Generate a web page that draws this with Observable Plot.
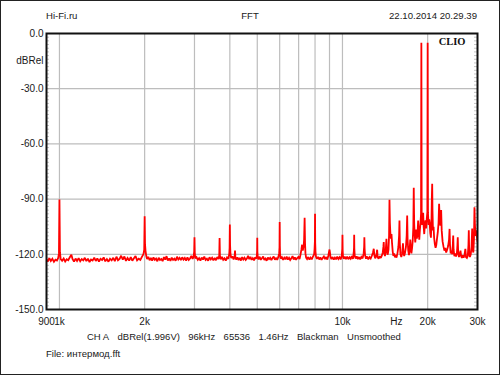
<!DOCTYPE html>
<html><head><meta charset="utf-8">
<script src="https://cdn.jsdelivr.net/npm/d3@7"></script>
<script src="https://cdn.jsdelivr.net/npm/@observablehq/plot@0.6"></script>
<style>
body{margin:0;background:#fff;font-family:"Liberation Sans",Arial,sans-serif;color:#1a1a1a}
#wrap{position:relative;width:500px;height:376px;overflow:hidden;background:#fff}
#border{position:absolute;left:0;top:0;width:500px;height:375px;box-sizing:border-box;border:1.5px solid #222;pointer-events:none}
.t{position:absolute;font-size:9.6px;line-height:12px;white-space:nowrap}
#chart{position:absolute;left:0;top:22px}
#foot{position:absolute;left:87px;top:331px;display:flex;gap:8.4px;font-size:9.5px;line-height:12px;white-space:nowrap}
</style></head>
<body><div id="wrap">
<div class="t" style="left:46px;top:10px">Hi-Fi.ru</div>
<div class="t" style="left:0;width:500px;text-align:center;top:10px">FFT</div>
<div class="t" style="right:23px;top:10px">22.10.2014 20.29.39</div>
<div id="chart"></div>
<div id="foot"><span>CH A</span><span>dBRel(1.996V)</span><span>96kHz</span><span>65536</span><span>1.46Hz</span><span>Blackman</span><span>Unsmoothed</span></div>
<div class="t" style="left:46px;top:348px">File: интермод.fft</div>
<div id="border"></div>
</div>
<script>
const xTicks = [900, 1000, 2000, 5000, 10000, 15500, 20000, 30000];
const xTickLabels = ["900", "1k", "2k", "5k", "10k", "Hz", "20k", "30k"];
const yTicks = [0, -15, -30, -60, -90, -120, -150];
const yTickLabels = ["0.0", "dBRel", "-30.0", "-60.0", "-90.0", "-120.0", "-150.0"];
const gridFreqs = [1000, 2000, 3000, 4000, 5000, 6000, 7000, 8000, 9000, 10000, 20000];
const gridDb = [-30, -60, -90, -120];

// spectrum [Hz, dBRel]
const spectrumLow = [
[900,-122.8],[910,-123.9],[921,-122.1],[932,-123.6],[944,-122.4],[956,-124.1],[968,-122.9],[980,-123.4],[990,-122.0],[996,-119.5],[1000,-90.2],[1004,-119],[1010,-122.6],[1022,-123.5],[1035,-122.3],[1048,-123.9],[1061,-122.7],[1074,-123.2],[1088,-121.6],[1102,-120.2],[1112,-122.5],[1126,-124.0],[1140,-122.3],[1154,-123.6],[1169,-122.1],[1184,-123.8],[1199,-122.6],[1214,-123.3],[1229,-121.9],[1245,-123.7],[1261,-122.4],[1277,-124.2],[1293,-122.8],[1310,-123.4],[1327,-121.8],[1344,-123.6],[1361,-122.2],[1379,-123.9],[1397,-122.5],[1415,-123.1],[1433,-121.7],[1452,-123.8],[1471,-122.6],[1490,-124.0],[1509,-122.4],[1529,-123.3],[1549,-121.9],[1569,-123.7],[1590,-121.3],[1610,-123.2],[1631,-122.5],[1652,-120.8],[1674,-122.9],[1696,-121.2],[1718,-123.6],[1740,-122.0],[1763,-123.4],[1786,-121.6],[1809,-123.5],[1833,-122.1],[1857,-121.0],[1881,-123.3],[1906,-122.4],[1931,-123.0],[1956,-121.4],[1980,-120.0],[1993,-117.5],[2000,-99.3],[2006,-114.5],[2014,-118.0],[2026,-120.8],[2040,-122.6],[2060,-121.4],[2082,-123.2],[2104,-122.0],[2126,-123.5],[2149,-121.7],[2172,-123.0],[2195,-122.3],[2218,-123.8],[2242,-121.9],[2266,-123.1],[2290,-122.6],[2315,-123.7],[2340,-121.5],[2365,-122.9],[2390,-121.0],[2415,-123.4],[2441,-122.2],[2467,-123.6],[2493,-121.8],[2520,-123.0],[2547,-122.4],[2574,-123.5],[2602,-121.3],[2630,-122.8],[2658,-121.9],[2686,-123.2],[2715,-121.6],[2744,-122.9],[2773,-122.0],[2803,-123.4],[2833,-121.7],[2863,-123.1],[2894,-122.3],[2925,-120.9],[2956,-122.5],[2980,-121.0],[2993,-118.5],[3000,-110.7],[3007,-119.0],[3020,-122.3]
];
const spectrumMid = [
[3050,-121.5],[3082,-123.0],[3115,-122.1],[3148,-123.4],[3181,-121.8],[3215,-122.9],[3249,-121.2],[3284,-123.1],[3319,-122.4],[3354,-123.5],[3390,-121.6],[3426,-122.8],[3462,-121.9],[3499,-123.3],[3536,-122.0],[3574,-123.2],[3612,-121.5],[3650,-122.6],[3670,-120.5],[3680,-111.2],[3690,-120.8],[3715,-122.7],[3752,-121.4],[3790,-123.0],[3830,-122.2],[3870,-123.4],[3910,-121.7],[3950,-122.5],[3980,-120.0],[3992,-116.5],[4000,-103.8],[4008,-115.0],[4020,-119.8],[4045,-122.0],[4085,-121.1],[4125,-122.8],[4160,-121.0],[4172,-118.0],[4185,-121.6],[4215,-122.9],[4255,-121.7],[4296,-123.2],[4337,-122.0],[4379,-123.4],[4421,-121.5],[4464,-122.8],[4507,-121.9],[4551,-123.1],[4595,-122.3],[4640,-120.8],[4685,-122.6],[4730,-121.4],[4776,-123.0],[4822,-122.1],[4869,-123.3],[4916,-121.6],[4960,-122.4],[4985,-120.5],[4995,-118.0],[5000,-111.0],[5005,-118.5],[5020,-121.5],[5050,-122.8],[5098,-121.3],[5146,-123.0],[5195,-122.1],[5245,-121.2],[5295,-123.1],[5346,-122.3],[5397,-123.5],[5449,-121.7],[5501,-122.6],[5554,-121.9],[5607,-123.2],[5661,-122.0],[5715,-121.2],[5770,-122.9],[5825,-122.1],[5880,-123.0],[5935,-121.4],[5975,-119.5],[5992,-116.0],[6000,-102.5],[6008,-115.5],[6020,-120.0],[6050,-122.4],[6110,-121.6],[6170,-123.0],[6230,-121.8],[6290,-122.7],[6350,-121.3],[6412,-122.9],[6474,-121.9],[6536,-123.1],[6599,-122.2],[6662,-121.0],[6726,-122.8],[6790,-121.7],[6855,-123.0],[6920,-122.0],[6986,-121.4],[7052,-122.6],[7100,-120.5],[7160,-117.5],[7200,-114.8],[7240,-118.0],[7290,-115.5],[7320,-112.0],[7350,-100.2],[7375,-114.0],[7400,-119.5],[7440,-121.8],[7500,-122.6],[7572,-121.5],[7644,-122.9],[7716,-121.8],[7790,-122.7],[7864,-121.3],[7940,-120.0],[7970,-117.0],[7990,-113.0],[8000,-98.0],[8012,-114.0],[8030,-118.5],[8060,-121.2],[8120,-122.5],[8198,-121.4],[8276,-122.8],[8355,-121.7],[8435,-123.0],[8515,-122.0],[8596,-121.2],[8678,-122.6],[8760,-121.5],[8843,-122.9],[8920,-120.5],[8970,-118.5],[9000,-117.4],[9030,-119.0],[9070,-121.4],[9140,-122.6],[9228,-121.5],[9316,-122.9],[9404,-121.8],[9493,-122.7],[9583,-121.3],[9673,-122.5],[9764,-121.6],[9856,-122.8],[9940,-120.8],[9985,-117.0],[10000,-109.4],[10015,-117.5],[10040,-120.8],[10100,-122.4],[10190,-121.3],[10290,-122.6],[10390,-121.2],[10490,-122.7],[10590,-121.6],[10690,-122.4],[10790,-121.0],[10890,-122.5],[10960,-119.0],[10985,-116.5],[11000,-109.4],[11015,-117.0],[11050,-120.8],[11130,-122.3],[11230,-121.1],[11335,-122.6],[11440,-121.5],[11550,-122.8],[11660,-121.4],[11780,-122.2],[11880,-119.5],[11930,-116.0],[11950,-110.7],[11975,-117.0],[12020,-120.5],[12110,-122.4],[12220,-121.2],[12340,-122.7],[12460,-121.5],[12580,-122.3],[12700,-120.8]
];
const spectrumHigh = [
[12820,-119.0],[12900,-117.0],[12960,-120.5],[13050,-122.2],[13150,-121.0],[13220,-119.0],[13260,-117.5],[13310,-121.5],[13420,-122.4],[13540,-121.0],[13660,-122.0],[13780,-120.6],[13880,-119.0],[13950,-116.0],[13990,-113.4],[14040,-119.2],[14130,-121.0],[14220,-118.0],[14300,-111.6],[14360,-118.5],[14450,-120.2],[14540,-117.5],[14610,-110.0],[14660,-90.4],[14710,-103.0],[14760,-108.0],[14830,-111.5],[14900,-109.0],[14970,-114.0],[15050,-118.5],[15130,-120.8],[15220,-119.5],[15320,-121.6],[15420,-120.4],[15520,-121.8],[15640,-119.5],[15760,-116.0],[15850,-110.0],[15900,-101.6],[15950,-114.0],[16030,-120.0],[16140,-121.5],[16260,-119.5],[16360,-114.0],[16420,-118.5],[16520,-121.0],[16640,-119.0],[16760,-116.0],[16860,-110.0],[16930,-98.9],[16990,-112.0],[17080,-118.0],[17180,-120.5],[17280,-117.0],[17360,-112.0],[17420,-116.0],[17520,-119.5],[17620,-116.5],[17720,-112.0],[17800,-105.0],[17860,-83.9],[17920,-103.0],[17990,-109.0],[18080,-113.5],[18160,-110.0],[18230,-106.5],[18320,-111.5],[18420,-108.5],[18510,-101.6],[18590,-108.0],[18680,-112.0],[18780,-106.5],[18870,-103.0],[18950,-98.0],[19000,-5.0],[19050,-97.0],[19140,-104.0],[19220,-99.0],[19280,-97.5],[19350,-104.5],[19450,-109.0],[19550,-104.0],[19650,-101.6],[19750,-106.0],[19860,-100.5],[19950,-97.0],[20000,-5.0],[20050,-97.5],[20150,-104.0],[20250,-101.0],[20330,-103.0],[20430,-108.5],[20540,-111.0],[20630,-102.0],[20700,-88.0],[20750,-81.7],[20800,-96.0],[20880,-107.0],[20980,-105.0],[21080,-111.0],[21200,-114.5],[21330,-116.5],[21450,-115.0],[21580,-111.5],[21720,-108.0],[21850,-103.0],[21950,-92.6],[22050,-100.0],[22180,-104.5],[22320,-96.0],[22420,-107.0],[22580,-113.0],[22760,-116.0],[22920,-118.0],[23080,-116.5],[23250,-119.0],[23430,-117.5],[23620,-115.5],[23800,-112.0],[23900,-106.2],[23990,-115.0],[24120,-119.5],[24280,-118.0],[24430,-120.0],[24540,-115.0],[24620,-109.8],[24700,-117.5],[24860,-121.0],[25020,-119.5],[25200,-121.2],[25360,-119.8],[25480,-115.0],[25550,-110.7],[25630,-118.5],[25800,-121.5],[25960,-120.2],[26120,-118.0],[26260,-121.0],[26420,-122.0],[26600,-120.5],[26800,-121.8],[27000,-120.2],[27180,-117.0],[27320,-121.5],[27520,-122.0],[27720,-120.8],[27870,-115.0],[27950,-107.0],[28040,-118.5],[28200,-121.5],[28400,-120.0],[28580,-116.0],[28730,-106.0],[28830,-117.5],[29000,-119.0],[29150,-112.0],[29270,-94.4],[29380,-104.0],[29550,-110.0],[29720,-107.0],[29880,-111.0],[30000,-113.0]
];

const spectrum = spectrumLow.concat(spectrumMid, spectrumHigh).map(([f, db]) => ({f, db}));
const minorDb = d3.range(-148, 0, 2);

const W = 500, H = 310, mL = 46, mR = 23, mT = 11, mB = 23;
const innerW = W - mL - mR;

const chart = Plot.plot({
  width: W, height: H,
  marginLeft: mL, marginRight: mR, marginTop: mT, marginBottom: mB,
  style: {fontFamily: "'Liberation Sans', Arial, sans-serif", fontSize: "10px", color: "#1a1a1a", background: "transparent", overflow: "visible"},
  x: {type: "log", domain: [900, 30000], label: null},
  y: {domain: [-150, 0], label: null},
  marks: [
    Plot.ruleX(gridFreqs, {stroke: "#bdbdbd", strokeWidth: 1.2}),
    Plot.ruleY(gridDb, {stroke: "#bdbdbd", strokeWidth: 1.2}),
    Plot.tickY(minorDb, {y: d => d, insetRight: innerW - 3, stroke: "#aaa", strokeWidth: 0.7}),
    Plot.tickY(minorDb, {y: d => d, insetLeft: innerW - 3, stroke: "#aaa", strokeWidth: 0.7}),
    Plot.line(spectrum, {x: "f", y: "db", stroke: "#f00", strokeWidth: 1.8, strokeLinejoin: "miter", strokeMiterlimit: 2, clip: true}),
    Plot.frame({stroke: "#111", strokeWidth: 2}),
    Plot.axisX(xTicks.slice(1), {tickSize: 0, tickPadding: 8, tickFormat: d => xTickLabels[xTicks.indexOf(d)], fontSize: 10}),
    Plot.text([xTickLabels[0]], {frameAnchor: "bottom-left", text: d => d, textAnchor: "middle", lineAnchor: "top", dy: 8, fontSize: 10, fill: "currentColor"}),
    Plot.axisY(yTicks, {tickSize: 0, tickPadding: 3, tickFormat: d => yTickLabels[yTicks.indexOf(d)], fontSize: 10}),
    Plot.text(["CLIO"], {frameAnchor: "top-right", text: d => d, dx: -12, dy: 8, lineAnchor: "middle", textAnchor: "end",
      fontFamily: "'Liberation Serif', 'Times New Roman', serif", fontWeight: "bold", fontSize: 10.5, fill: "#111"})
  ]
});
document.getElementById("chart").appendChild(chart);
</script>
</body></html>
